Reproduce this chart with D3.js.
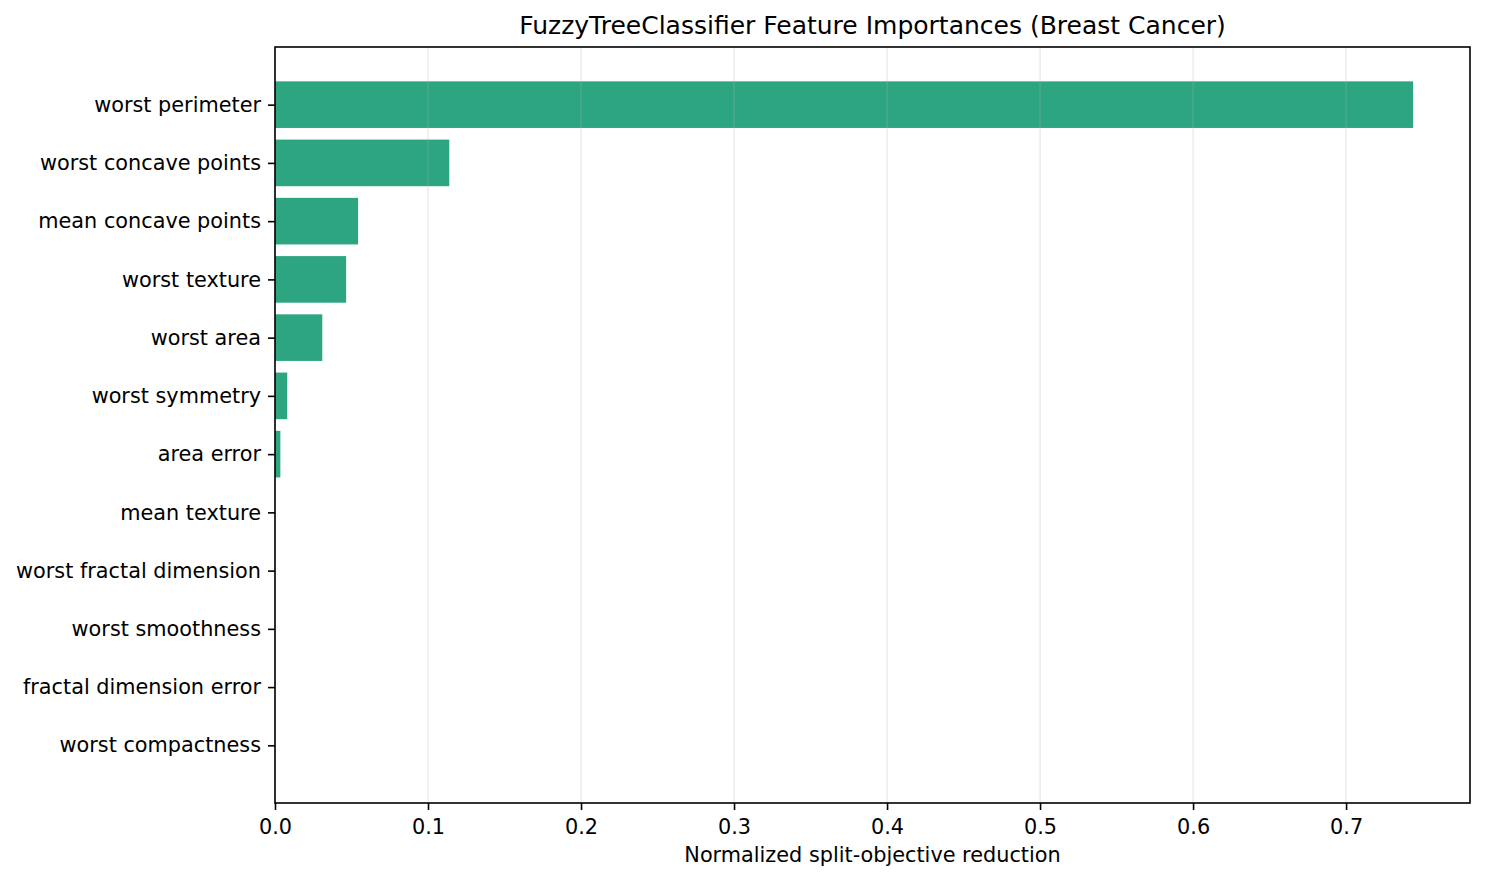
<!DOCTYPE html>
<html>
<head>
<meta charset="utf-8">
<script src="https://cdn.jsdelivr.net/npm/d3@7"></script>
<style>
  html, body { margin: 0; padding: 0; background: #fff; }
  text { font-family: "DejaVu Sans", sans-serif; fill: #000; }
</style>
</head>
<body>
<svg id="chart" width="1485" height="881"></svg>
<script>
const features = [
  "worst perimeter",
  "worst concave points",
  "mean concave points",
  "worst texture",
  "worst area",
  "worst symmetry",
  "area error",
  "mean texture",
  "worst fractal dimension",
  "worst smoothness",
  "fractal dimension error",
  "worst compactness"
];
const importances = [0.7438, 0.1139, 0.0543, 0.0465, 0.0309, 0.0080, 0.0035, 0.0, 0.0, 0.0, 0.0, 0.0];
const xTicks = [0.0, 0.1, 0.2, 0.3, 0.4, 0.5, 0.6, 0.7];
const titleText = "FuzzyTreeClassifier Feature Importances (Breast Cancer)";
const xLabel = "Normalized split-objective reduction";

(function () {
const svg = d3.select("#chart");
const mLeft = 275, mRight = 1470, mTop = 47, mBottom = 803;
const n = features.length;
const barH = 0.8;
const tickFont = "20.8px";

const xMax = d3.max(importances) * 1.05;
const x = d3.scaleLinear().domain([0, xMax]).range([mLeft, mRight]);
const yPad = (n - 1 + barH) * 0.05;
const y = d3.scaleLinear().domain([-barH / 2 - yPad, n - 1 + barH / 2 + yPad]).range([mTop, mBottom]);

// bars
svg.append("g").selectAll("rect").data(importances).join("rect")
  .attr("x", x(0))
  .attr("y", (d, i) => y(i - barH / 2))
  .attr("width", d => x(d) - x(0))
  .attr("height", (d, i) => y(i + barH / 2) - y(i - barH / 2))
  .attr("fill", "#2ca580");

// grid (drawn above bars)
svg.append("g").selectAll("line").data(xTicks).join("line")
  .attr("x1", d => x(d)).attr("x2", d => x(d))
  .attr("y1", mTop).attr("y2", mBottom)
  .attr("stroke", "#b0b0b0").attr("stroke-opacity", 0.27).attr("stroke-width", 1.4);

// x axis
const xAxis = d3.axisBottom(x).tickValues(xTicks).tickFormat(d3.format(".1f")).tickSizeOuter(0).tickSize(7).tickPadding(7);
const gx = svg.append("g").attr("transform", `translate(0,${mBottom})`).call(xAxis);
gx.select(".domain").remove();
gx.selectAll(".tick line").attr("stroke", "#000").attr("stroke-width", 1.6);
gx.selectAll(".tick text").attr("font-size", tickFont).attr("font-family", "DejaVu Sans").attr("fill", "#000")
  .attr("y", 31).attr("dy", null);

// y axis
const yAxis = d3.axisLeft(y).tickValues(d3.range(n)).tickFormat(i => features[i]).tickSizeOuter(0).tickSize(7).tickPadding(7);
const gy = svg.append("g").attr("transform", `translate(${mLeft},0)`).call(yAxis);
gy.select(".domain").remove();
gy.selectAll(".tick line").attr("stroke", "#000").attr("stroke-width", 1.6);
gy.selectAll(".tick text").attr("font-size", tickFont).attr("font-family", "DejaVu Sans").attr("fill", "#000");

// frame
svg.append("rect")
  .attr("x", mLeft).attr("y", mTop)
  .attr("width", mRight - mLeft).attr("height", mBottom - mTop)
  .attr("fill", "none").attr("stroke", "#000").attr("stroke-width", 1.6);

// title
svg.append("text")
  .attr("x", (mLeft + mRight) / 2).attr("y", 34)
  .attr("text-anchor", "middle").attr("font-size", "25px")
  .text(titleText);

// x label
svg.append("text")
  .attr("x", (mLeft + mRight) / 2).attr("y", 862)
  .attr("text-anchor", "middle").attr("font-size", tickFont)
  .text(xLabel);
})();
</script>
</body>
</html>
